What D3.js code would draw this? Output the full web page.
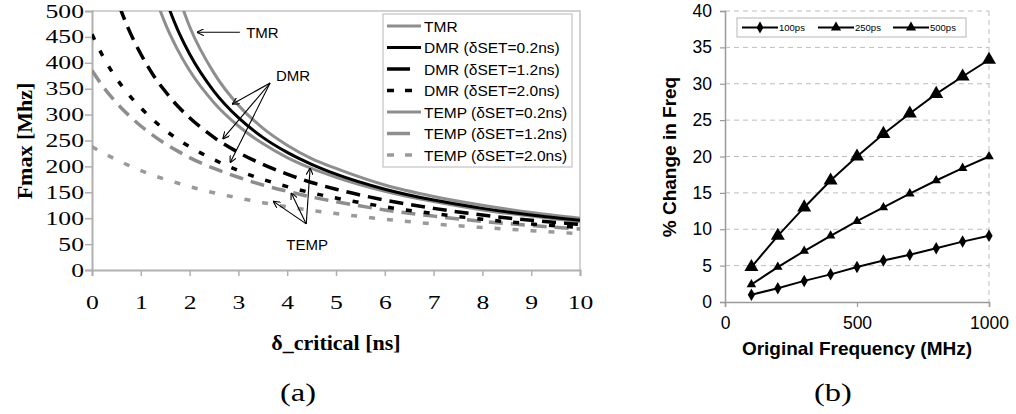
<!DOCTYPE html>
<html><head><meta charset="utf-8">
<script src="https://cdn.jsdelivr.net/npm/d3@7"></script>
<style>body{margin:0;background:#fff}svg{display:block}</style>
</head><body>
<svg id="c" width="1016" height="414"></svg>
<script>
// ---------- data (a) ----------
const deltaCritical = [0,0.25,0.5,0.75,1,1.25,1.5,1.75,2,2.5,3,3.5,4,4.5,5,6,7,8,9,10];
const tmr      = [null,null,null,null,null,720,610,535,470,380,318,274,241,215,196,164,142,125,111,100];
const dmr02    = [null,null,null,null,714,606,526,465,417,345,294,256,227,204,185,156,135,119,106,96];
const dmr12    = [714,606,526,465,417,377,345,317,294,256,227,204,185,169,156,135,119,106,96,88];
const dmr20    = [455,408,370,339,313,290,270,253,238,213,192,175,161,149,139,122,109,98,89,82];
const temp02   = [null,null,null,741,625,541,476,426,385,323,278,244,217,196,179,152,132,116,104,93];
const temp12   = [385,351,323,299,278,260,244,230,217,196,179,164,152,141,132,116,104,94,86,79];
const temp20   = [238,225,213,202,192,183,175,168,161,149,139,130,122,115,109,98,89,82,76,70];
const seriesNamesA = ["TMR","DMR (δSET=0.2ns)","DMR (δSET=1.2ns)","DMR (δSET=2.0ns)","TEMP (δSET=0.2ns)","TEMP (δSET=1.2ns)","TEMP (δSET=2.0ns)"];
const yTicksA = [0,50,100,150,200,250,300,350,400,450,500];
const xTicksA = [0,1,2,3,4,5,6,7,8,9,10];

// ---------- data (b) ----------
const origFreq = [100,200,300,400,500,600,700,800,900,1000];
const ps100 = [1.0,1.9,2.9,3.8,4.8,5.7,6.5,7.4,8.3,9.1];
const ps250 = [2.4,4.8,7.0,9.1,11.1,13.0,14.9,16.7,18.4,20.0];
const ps500 = [4.8,9.1,13.0,16.7,20.0,23.1,25.9,28.6,31.0,33.3];
const seriesNamesB = ["100ps","250ps","500ps"];
const yTicksB = [0,5,10,15,20,25,30,35,40];
const xTicksB = [0,500,1000];

const svg = d3.select("#c");
const GRAY = "#8e8e8e";
const SERIF = "'Liberation Serif','Times New Roman',serif";
const SANS = "'Liberation Sans',Arial,sans-serif";

// ================= chart (a) =================
const A = {l:92, r:580, t:11, b:270};
const xA = d3.scaleLinear().domain([0,10]).range([A.l,A.r]);
const yA = d3.scaleLinear().domain([0,500]).range([A.b,A.t]);
const gA = svg.append("g");

gA.append("defs").append("clipPath").attr("id","clipA")
  .append("rect").attr("x",A.l).attr("y",A.t).attr("width",A.r-A.l).attr("height",A.b-A.t);

// plot border (top/right)
gA.append("path").attr("d",`M${A.l},${A.t}H${A.r}V${A.b}`).attr("fill","none").attr("stroke","#c4c4c4").attr("stroke-width",1.5);

const yAxA = gA.append("g").attr("transform",`translate(${A.l},0)`)
  .call(d3.axisLeft(yA).tickValues(yTicksA).tickSize(7).tickPadding(8).tickFormat(d3.format("d")));
const xAxA = gA.append("g").attr("transform",`translate(0,${A.b})`)
  .call(d3.axisBottom(xA).tickValues(xTicksA).tickSize(6).tickPadding(20).tickFormat(d3.format("d")));
[yAxA,xAxA].forEach(ax=>{
  ax.select(".domain").attr("stroke","#b0b0b0").attr("stroke-width",2);
  ax.selectAll(".tick line").attr("stroke","#b0b0b0").attr("stroke-width",1.5);
  ax.selectAll("text").attr("font-family",SERIF).attr("font-size",19).attr("fill","#000");
});
yAxA.selectAll("text").attr("x",0).attr("transform","translate(-8,0) scale(1.35,1)");
xAxA.selectAll("text").attr("transform","scale(1.35,1)");

const styleA = [
  {data:tmr,   color:GRAY,  dash:null,   ldash:null,   w:3},
  {data:dmr02, color:"#000",dash:null,   ldash:null,   w:3},
  {data:dmr12, color:"#000",dash:"14,8", ldash:"23,20",w:3.5},
  {data:dmr20, color:"#000",dash:"6,12", ldash:"7,11", w:3.5},
  {data:temp02,color:GRAY,  dash:null,   ldash:null,   w:3},
  {data:temp12,color:GRAY,  dash:"14,8", ldash:"23,20",w:3.5},
  {data:temp20,color:"#9a9a9a",dash:"6,12",ldash:"7,11",w:3.5}
];
const lineA = d3.line().defined(d=>d[1]!=null).x(d=>xA(d[0])).y(d=>yA(d[1])).curve(d3.curveMonotoneX);
const curvesA = gA.append("g").attr("clip-path","url(#clipA)");
// draw in order so gray behind black
[0,4,6,5,3,2,1].forEach(i=>{
  const s = styleA[i];
  const pts = deltaCritical.map((x,j)=>[x,s.data[j]]);
  curvesA.append("path").attr("d",lineA(pts)).attr("fill","none")
    .attr("stroke",s.color).attr("stroke-width",s.w)
    .attr("stroke-dasharray",s.dash);
});

// annotations
const defs = svg.append("defs");
defs.append("marker").attr("id","arr").attr("viewBox","0 0 10 10").attr("refX",10).attr("refY",5)
  .attr("markerWidth",7).attr("markerHeight",7).attr("markerUnits","userSpaceOnUse").attr("orient","auto")
  .append("path").attr("d","M0,0L10,5L0,10").attr("fill","none").attr("stroke","#000").attr("stroke-width",1.6);
const annots = [
  {label:"TMR",  text:[3.16,459], from:[3.03,459], to:[[2.15,459]]},
  {label:"DMR",  text:[3.77,375], from:[3.65,361], to:[[2.87,320],[2.68,253],[2.83,207]]},
  {label:"TEMP", text:[3.98,50],  from:[4.39,89],  to:[[4.47,197],[4.08,149],[3.71,133]]}
];
const annG = gA.append("g");
annots.forEach(a=>{
  a.to.forEach(t=>{
    annG.append("line").attr("x1",xA(a.from[0])).attr("y1",yA(a.from[1]))
      .attr("x2",xA(t[0])).attr("y2",yA(t[1])).attr("stroke","#000").attr("stroke-width",1.1)
      .attr("marker-end","url(#arr)");
  });
  annG.append("text").attr("x",xA(a.text[0])).attr("y",yA(a.text[1])).attr("dy","0.36em")
    .attr("font-family",SANS).attr("font-size",15).text(a.label);
});

// legend (a)
const legA = gA.append("g").attr("transform","translate(383,14)");
legA.append("rect").attr("width",189).attr("height",153).attr("fill","#fff").attr("stroke","#c4c4c4").attr("stroke-width",1.2);
seriesNamesA.forEach((n,i)=>{
  const s = styleA[i], y = 12 + i*21.5;
  legA.append("line").attr("x1",4).attr("x2",38).attr("y1",y).attr("y2",y)
    .attr("stroke",s.color).attr("stroke-width",s.w).attr("stroke-dasharray",s.ldash);
  legA.append("text").attr("x",41).attr("y",y).attr("dy","0.36em")
    .attr("font-family",SANS).attr("font-size",15.5).text(n);
});

// titles (a)
svg.append("text").attr("transform",`translate(24,141) rotate(-90)`).attr("text-anchor","middle").attr("dy","0.35em")
  .attr("font-family",SERIF).attr("font-weight","bold").attr("font-size",22).text("Fmax [Mhz]");
svg.append("text").attr("x",(A.l+A.r)/2).attr("y",350).attr("text-anchor","middle")
  .attr("font-family",SERIF).attr("font-weight","bold").attr("font-size",22).text("δ_critical [ns]");
svg.append("text").attr("transform","translate(298,401) scale(1.25,1)").attr("text-anchor","middle")
  .attr("font-family",SERIF).attr("font-size",26).text("(a)");

// ================= chart (b) =================
const B = {l:725, r:989, t:11, b:302};
const xB = d3.scaleLinear().domain([0,1000]).range([B.l,B.r]);
const yB = d3.scaleLinear().domain([0,40]).range([B.b,B.t]);
const gB = svg.append("g");

// gridlines
gB.append("g").selectAll("line").data(yTicksB.filter(v=>v>0)).join("line")
  .attr("x1",B.l).attr("x2",B.r).attr("y1",d=>yB(d)).attr("y2",d=>yB(d))
  .attr("stroke","#bdbdbd").attr("stroke-width",1).attr("stroke-dasharray","5,4");
gB.append("line").attr("x1",B.r).attr("x2",B.r).attr("y1",B.t).attr("y2",B.b)
  .attr("stroke","#bdbdbd").attr("stroke-width",1).attr("stroke-dasharray","5,4");

const yAxB = gB.append("g").attr("transform",`translate(${B.l},0)`)
  .call(d3.axisLeft(yB).tickValues(yTicksB).tickSize(5).tickPadding(8));
const xAxB = gB.append("g").attr("transform",`translate(0,${B.b})`)
  .call(d3.axisBottom(xB).tickValues(xTicksB).tickSize(5).tickPadding(10).tickFormat(d3.format("d")));
[yAxB,xAxB].forEach(ax=>{
  ax.select(".domain").attr("stroke","#9a9a9a").attr("stroke-width",1.5);
  ax.selectAll(".tick line").attr("stroke","#9a9a9a").attr("stroke-width",1.2);
  ax.selectAll("text").attr("font-family",SANS).attr("font-size",17.5).attr("fill","#000");
});

const tri = d3.symbol().type(d3.symbolTriangle);
const dia = d3.symbol().type(d3.symbolDiamond);
const styleB = [
  {data:ps100, sym:dia.size(45)()},
  {data:ps250, sym:tri.size(40)()},
  {data:ps500, sym:tri.size(85)()}
];
const lineB = d3.line().x(d=>xB(d[0])).y(d=>yB(d[1]));
styleB.forEach(s=>{
  const pts = origFreq.map((x,j)=>[x,s.data[j]]);
  gB.append("path").attr("d",lineB(pts)).attr("fill","none").attr("stroke","#000").attr("stroke-width",2);
  gB.append("g").selectAll("path").data(pts).join("path")
    .attr("transform",d=>`translate(${xB(d[0])},${yB(d[1])})`).attr("d",s.sym).attr("fill","#000");
});

// legend (b)
const legB = gB.append("g").attr("transform","translate(737,18)");
legB.append("rect").attr("width",229).attr("height",19).attr("fill","#fff").attr("stroke","#b5b5b5").attr("stroke-width",1);
const legBx = [5,81,156];
seriesNamesB.forEach((n,i)=>{
  const x0 = legBx[i], y = 9.5;
  legB.append("line").attr("x1",x0).attr("x2",x0+36).attr("y1",y).attr("y2",y).attr("stroke","#000").attr("stroke-width",2);
  legB.append("path").attr("transform",`translate(${x0+18},${y})`)
    .attr("d", i===0 ? dia.size(40)() : tri.size(45)()).attr("fill","#000");
  legB.append("text").attr("x",x0+37).attr("y",y).attr("dy","0.36em")
    .attr("font-family",SANS).attr("font-size",9.5).text(n);
});

// titles (b)
svg.append("text").attr("transform",`translate(669,157) rotate(-90)`).attr("text-anchor","middle").attr("dy","0.35em")
  .attr("font-family",SANS).attr("font-weight","bold").attr("font-size",19).text("% Change in Freq");
svg.append("text").attr("x",857).attr("y",355).attr("text-anchor","middle")
  .attr("font-family",SANS).attr("font-weight","bold").attr("font-size",19).text("Original Frequency (MHz)");
svg.append("text").attr("transform","translate(833,401) scale(1.25,1)").attr("text-anchor","middle")
  .attr("font-family",SERIF).attr("font-size",26).text("(b)");
</script>
</body></html>
